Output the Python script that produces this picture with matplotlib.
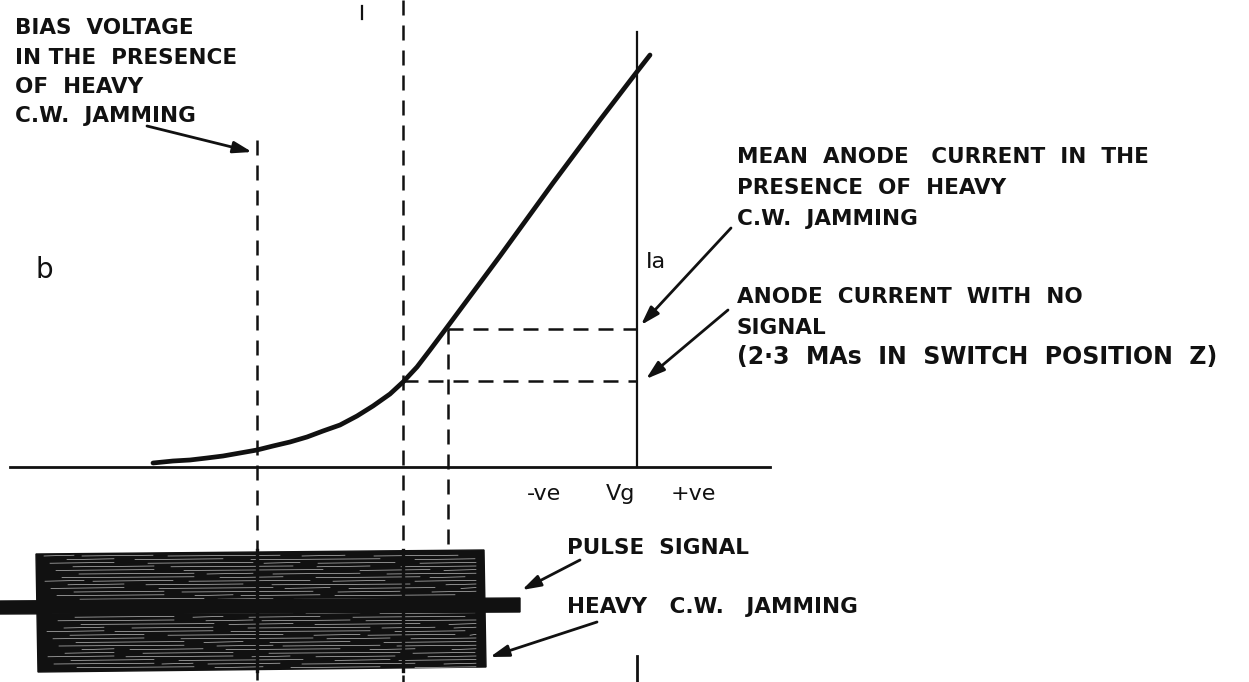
import matplotlib.pyplot as plt
import numpy as np

# grid voltage / anode current characteristic, in drawing units (y grows downward)
curve_vg = [153, 173, 190, 207, 223, 240, 257, 273, 290, 307, 323, 340, 357, 373,
            390, 403, 417, 430, 445, 500, 553, 600, 636, 650]
curve_ia = [463, 461, 460, 458, 456, 453, 450, 446, 442, 437, 431, 425, 416, 406,
            394, 382, 367, 350, 330, 256, 183, 120, 73, 55]

axis_y = 467
ia_line_x = 637

# projection lines
bias_x = 257          # bias with heavy jamming
no_signal_x = 403     # operating point with no signal
mean_x = 448          # mean current point with jamming
no_signal_ia = 381
mean_ia = 329

# jamming block and pulse signal
block_left, block_right = 36, 484
block_top, block_bottom = 552, 671
pulse_left, pulse_right = 0, 520
pulse_y = 606

left_label = ["BIAS  VOLTAGE", "IN THE  PRESENCE", "OF  HEAVY", "C.W.  JAMMING"]
mean_label = ["MEAN  ANODE   CURRENT  IN  THE", "PRESENCE  OF  HEAVY", "C.W.  JAMMING"]
nosig_label = ["ANODE  CURRENT  WITH  NO", "SIGNAL"]

fig = plt.figure(figsize=(12.49, 6.82), dpi=100)
ax = fig.add_axes([0, 0, 1, 1])
ax.set_xlim(0, 1249)
ax.set_ylim(682, 0)
ax.axis('off')

ink = '#111111'
dash = dict(color=ink, lw=1.8, linestyle=(0, (6, 4)))
font = dict(family='DejaVu Sans', weight='bold', color=ink)

# axes of the characteristic
ax.plot([10, 770], [axis_y, axis_y], color=ink, lw=2)
ax.plot([ia_line_x, ia_line_x], [32, axis_y], color=ink, lw=1.6)
ax.plot([ia_line_x, ia_line_x], [656, 682], color=ink, lw=2)
ax.plot([362, 362], [6, 19], color=ink, lw=1.6)

# the curve
ax.plot(curve_vg, curve_ia, color=ink, lw=3.4, solid_capstyle='round', solid_joinstyle='round')

# dashed projections
ax.plot([bias_x, bias_x], [140, 682], **dash)
ax.plot([no_signal_x, no_signal_x], [0, 682], **dash)
ax.plot([mean_x, mean_x], [mean_ia, block_top], **dash)
ax.plot([mean_x, ia_line_x], [mean_ia, mean_ia], **dash)
ax.plot([no_signal_x, ia_line_x], [no_signal_ia, no_signal_ia], **dash)

# heavy c.w. jamming block, hatched with thin broken white streaks
ax.fill([block_left, block_right, block_right + 2, block_left + 2],
        [block_top + 2, block_top - 2, block_bottom - 4, block_bottom + 1],
        color=ink, zorder=3)
rows = np.arange(block_top + 4, block_bottom - 2, 3.6)
for k, yy in enumerate(rows):
    x = block_left + 8 + (k * 23) % 40
    seg = 0
    while x < block_right - 10:
        length = 30 + ((k * 17 + seg * 41) % 110)
        x1 = min(x + length, block_right - 8)
        ax.plot([x, x1], [yy, yy - 0.8], color='white', lw=0.45, alpha=0.8, zorder=4)
        x = x1 + 8 + ((k * 13 + seg * 7) % 30)
        seg += 1

# pulse signal
ax.fill([pulse_left, pulse_right, pulse_right, pulse_left],
        [pulse_y - 5, pulse_y - 8, pulse_y + 6, pulse_y + 8], color=ink, zorder=5)
for xx in [bias_x, no_signal_x]:
    ax.plot([xx, xx], [block_top - 2, block_bottom], color=ink, lw=2.4, zorder=6)

# labels
for i, line in enumerate(left_label):
    ax.text(15, 28 + i * 29.5, line, fontsize=15.5, va='center', **font)
for i, line in enumerate(mean_label):
    ax.text(737, 157 + i * 31, line, fontsize=15.5, va='center', **font)
for i, line in enumerate(nosig_label):
    ax.text(737, 297 + i * 31, line, fontsize=15.5, va='center', **font)
ax.text(737, 357, "(2·3  MAs  IN  SWITCH  POSITION  Z)", fontsize=17, va='center', **font)
ax.text(567, 548, "PULSE  SIGNAL", fontsize=15.5, va='center', **font)
ax.text(567, 607, "HEAVY   C.W.   JAMMING", fontsize=15.5, va='center', **font)

ax.text(646, 262, "Ia", fontsize=16, va='center', family='DejaVu Sans', color=ink)
ax.text(36, 270, "b", fontsize=20, va='center', family='DejaVu Sans', color=ink)
ax.text(527, 494, "-ve", fontsize=16, va='center', family='DejaVu Sans', color=ink)
ax.text(606, 494, "Vg", fontsize=16, va='center', family='DejaVu Sans', color=ink)
ax.text(671, 494, "+ve", fontsize=16, va='center', family='DejaVu Sans', color=ink)

# leader arrows
arrow = dict(arrowstyle='-|>,head_length=0.7,head_width=0.22', color=ink, lw=2,
             mutation_scale=16, shrinkA=0, shrinkB=0)
for start, end in [((147, 126), (252, 152)),
                   ((731, 228), (641, 325)),
                   ((728, 310), (646, 379)),
                   ((580, 560), (522, 590)),
                   ((597, 622), (490, 657))]:
    ax.annotate('', xy=end, xytext=start, arrowprops=arrow, zorder=7)

fig.savefig('out.png', dpi=100, facecolor='white')
